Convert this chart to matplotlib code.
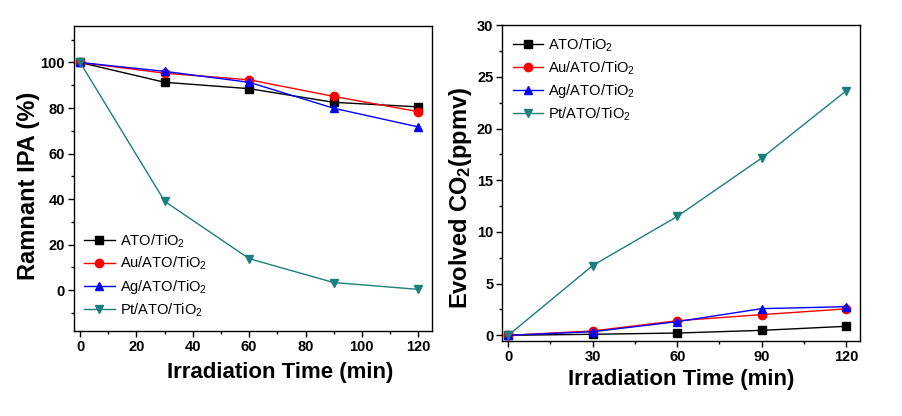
import numpy as np
import matplotlib
matplotlib.use("Agg")
import matplotlib.pyplot as plt
from matplotlib.ticker import MultipleLocator

plt.rcParams["font.family"] = ["Liberation Sans", "DejaVu Sans"]
plt.rcParams["mathtext.default"] = "regular"

# data
time_min = [0, 30, 60, 90, 120]
labels = ["ATO/TiO$_2$", "Au/ATO/TiO$_2$", "Ag/ATO/TiO$_2$", "Pt/ATO/TiO$_2$"]
ipa_ato = [100, 91.3, 88.5, 82.5, 80.5]
ipa_au = [100, 95.3, 92.4, 85.1, 78.4]
ipa_ag = [100, 96.1, 91.3, 79.9, 71.7]
ipa_pt = [100, 39.0, 13.8, 3.3, 0.3]
co2_ato = [0, 0.1, 0.22, 0.48, 0.87]
co2_au = [0, 0.42, 1.41, 2.0, 2.56]
co2_ag = [0, 0.35, 1.32, 2.58, 2.77]
co2_pt = [0, 6.75, 11.5, 17.15, 23.65]

colors = ["black", "red", "blue", "#1b7f7f"]
markers = ["s", "o", "^", "v"]

fig = plt.figure(figsize=(9.03, 4.16), dpi=100)
ax1 = fig.add_axes([0.0819, 0.2043, 0.3965, 0.733])
ax2 = fig.add_axes([0.5563, 0.1803, 0.396, 0.759])


def style(ax):
    for sp in ax.spines.values():
        sp.set_linewidth(1.0)
    ax.tick_params(which="both", direction="out", top=False, right=False,
                   width=1.0)
    ax.tick_params(which="major", length=4.5, labelsize=10.5, pad=2)
    ax.tick_params(which="minor", length=2.5)
    for t in ax.get_xticklabels() + ax.get_yticklabels():
        t.set_fontweight("bold")


legend_kw = dict(frameon=False, fontsize=10.5, handlelength=2.1,
                 handletextpad=0.35, labelspacing=0.37, borderaxespad=0.3)

# left: remaining IPA
for ys, c, m, lab in zip([ipa_ato, ipa_au, ipa_ag, ipa_pt], colors, markers, labels):
    ax1.plot(time_min, ys, color=c, marker=m, markersize=6, linewidth=1.0,
             label=lab)
ax1.set_xlim(-2.2, 124.9)
ax1.set_ylim(-18, 116)
ax1.xaxis.set_major_locator(MultipleLocator(20))
ax1.xaxis.set_minor_locator(MultipleLocator(10))
ax1.yaxis.set_minor_locator(MultipleLocator(10))
ax1.set_yticks([0, 20, 40, 60, 80, 100])
ax1.set_ylabel("Ramnant IPA (%)", fontsize=17, fontweight="bold")
ax1.set_xlabel("Irradiation Time (min)", fontsize=16, fontweight="bold")
ax1.yaxis.set_label_coords(-0.094, 0.475)
ax1.xaxis.set_label_coords(0.575, -0.103)
style(ax1)
ax1.legend(loc="lower left", bbox_to_anchor=(0.0, 0.007), **legend_kw)

# right: evolved CO2
for ys, c, m, lab in zip([co2_ato, co2_au, co2_ag, co2_pt], colors, markers, labels):
    ax2.plot(time_min, ys, color=c, marker=m, markersize=6, linewidth=1.0,
             label=lab)
ax2.set_xlim(-2.1, 124.9)
ax2.set_ylim(-0.55, 30)
ax2.xaxis.set_major_locator(MultipleLocator(30))
ax2.xaxis.set_minor_locator(MultipleLocator(15))
ax2.yaxis.set_major_locator(MultipleLocator(5))
ax2.yaxis.set_minor_locator(MultipleLocator(2.5))
ax2.set_ylabel("Evolved CO$_2$(ppmv)", fontsize=17, fontweight="bold")
ax2.set_xlabel("Irradiation Time (min)", fontsize=16, fontweight="bold")
ax2.yaxis.set_label_coords(-0.078, 0.4525)
ax2.xaxis.set_label_coords(0.5, -0.09)
style(ax2)
ax2.legend(loc="upper left", bbox_to_anchor=(0.0, 0.997), **legend_kw)

fig.savefig("out.png", dpi=100)
